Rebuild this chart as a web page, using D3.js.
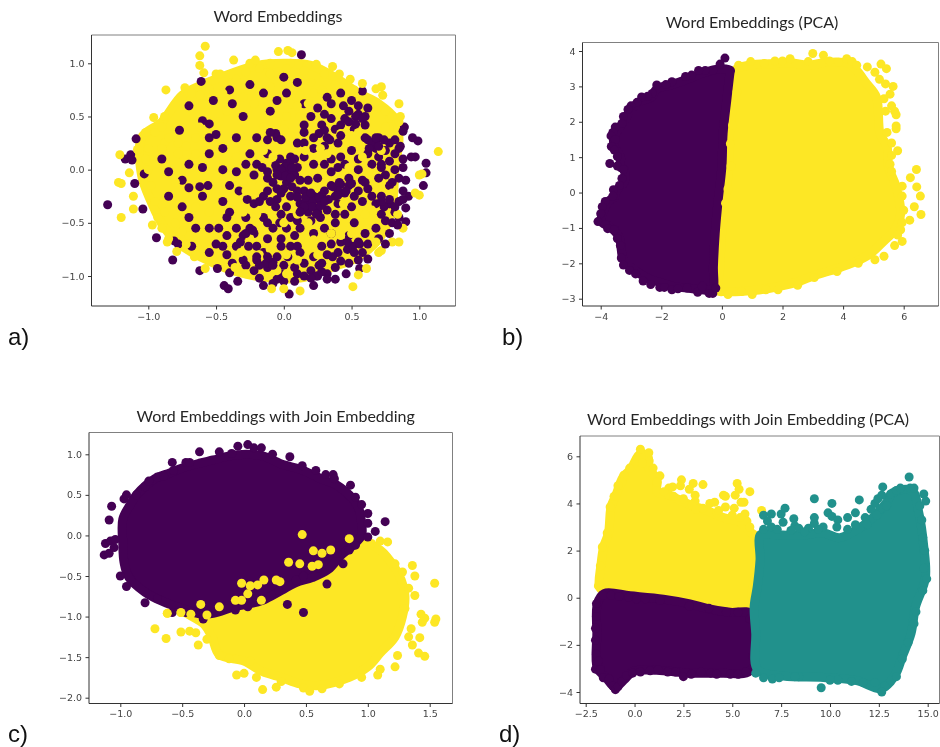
<!DOCTYPE html>
<html>
<head>
<meta charset="utf-8">
<script src="https://cdn.jsdelivr.net/npm/d3@7"></script>
<style>
    html, body { margin: 0; padding: 0; background: #fff; }
    svg { display: block; filter: blur(0.35px); }
    .tick text { font-family: "DejaVu Sans", sans-serif; font-size: 9.5px; fill: #444; }
    .tick line { stroke: #333; }
    .title { font-family: "Lato", "Open Sans", sans-serif; font-size: 16px; fill: #262626; text-anchor: middle; }
    .letter { font-family: "Liberation Sans", sans-serif; font-size: 24px; fill: #111; }
</style>
</head>
<body>
<script>
const PURPLE = '#440154', TEAL = '#21918c', YELLOW = '#fde725';
const DOT_R = 4.5;

// Values. The solid masses can't be split into single
// points by eye, so each one is kept as an outline through the outer point
// centres (Mass) and the visible edge / stray points are kept as dots (Dots).

// a) Word Embeddings
const aTicksX = [-1, -0.5, 0, 0.5, 1];
const aTicksY = [-1, -0.5, 0, 0.5, 1];
const aYellowMass = [[-1.05,0.3],[-0.9,0.45],[-0.75,0.7],[-0.6,0.8],[-0.4,0.9],[-0.2,0.98],[0,1],[0.2,0.98],[0.4,0.85],[0.55,0.72],[0.7,0.62],[0.82,0.48],[0.85,0.3],[0.82,0],[0.8,-0.35],[0.72,-0.62],[0.55,-0.82],[0.35,-0.92],[0.12,-1.02],[-0.1,-1.02],[-0.35,-0.96],[-0.55,-0.86],[-0.75,-0.72],[-0.88,-0.55],[-0.98,-0.3],[-1.05,-0.05]];
const aPurpleDots = [[-1.3,-0.33],[-1.09,0.29],[-1.17,0.1],[-1.13,0.14],[-1.12,0.09],[-1.1,-0.13],[-1.03,-0.04],[-1.04,-0.37],[-0.94,-0.64],[-0.82,-0.85],[-0.81,-0.67],[-0.78,-0.7],[-0.62,-0.95],[-0.49,-0.93],[-0.44,-1.09],[-0.41,-1.12],[-0.34,-1.05],[-0.4,-0.97],[-0.15,-1.09],[0.04,-1.17],[0.13,1.08],[0,0.87],[0.1,0.82],[1.05,0.06],[1.05,-0.03],[1.03,-0.15],[0.99,0.27],[0.95,0.3],[0.89,0.4],[0.88,0.36],[0.97,0.12],[0.94,0.12],[0.92,-0.25],[0.9,-0.36],[0.9,-0.49],[0.58,0.74],[0.56,-0.93],
[-0.61,0.83],[-0.52,0.65],[-0.7,0.6],[-0.4,0.75],[-0.38,0.62],[-0.25,0.8],[-0.15,0.72],[-0.1,0.55],[-0.3,0.5],[-0.55,0.43],[-0.6,0.46],[-0.77,0.37],[-0.55,0.3],[-0.5,0.33],[-0.35,0.3],[-0.45,0.2],[-0.55,0.15],[-0.7,0.05],[-0.9,0.1],[-0.85,-0.02],[-0.6,0.02],[-0.45,0],[-0.35,-0.02],[-0.75,-0.1],[-0.62,-0.16],[-0.7,-0.17],[-0.56,-0.15],[-0.85,-0.25],[-0.6,-0.25],[-0.4,-0.15],[-0.45,-0.3],[-0.75,-0.35],[-0.7,-0.45],[-0.65,-0.55],[-0.55,-0.55],[-0.42,-0.45],[-0.35,-0.55],[-0.5,-0.7],[-0.68,-0.72],[-0.35,-0.72],[-0.3,-0.62],[-0.25,-0.55],[-0.2,-0.72],[-0.12,-0.65],[-0.42,-0.8],[-0.3,-0.85],[-0.2,-0.85],[-0.22,-0.95],[-0.12,-0.92],[-0.05,-1.03],[0,-1.05],[-0.08,-1.07],[0.08,-1.05],[0.22,-1.09],[0.25,-1],[0.2,-0.95],[0.15,-0.88],[0.08,-0.92],[0,-0.9],[-0.05,-0.82],[0.28,-0.88],[0.38,-1.03],[0.46,-0.98],[0.55,-0.85],[0.47,-0.75],[0.55,-0.68],[0.6,-0.6],[0.68,-0.55],[0.78,-0.6],[0.8,-0.5],[0.72,-0.42],[0.78,-0.32],[0.85,-0.3],[0.88,-0.2],[0.8,-0.12],[0.75,-0.05],[0.82,0],[0.78,0.08],[0.7,0.12],[0.65,0.22],[0.62,0.28],[0.7,0.3],[0.78,0.25],[0.85,0.2],[0.88,0.1],[0.65,0.05],[0.55,0],[0.58,-0.1],[0.48,-0.08],[0.45,0.05],[0.42,0.12],[0.5,0.18],[0.4,0.25],[0.32,0.3],[0.38,0.38],[0.28,0.42],[0.2,0.5],[0.25,0.58],[0.35,0.62],[0.42,0.72],[0.5,0.65],[0.55,0.52],[0.6,0.5],[0.45,0.48],[0.15,0.35],[0.1,0.25],[0.05,0.12],[-0.05,0.3],[-0.12,0.28],[-0.2,0.3],[-0.25,0.15],[-0.2,0.05],[-0.22,-0.05],[-0.12,-0.08],[-0.05,0],[0,0.02],[0.02,0.06],[0.04,-0.02],[-0.02,-0.06],[0.08,-0.05],[0.02,-0.12],[0.1,0.02],[0.15,-0.2],[0.18,-0.25],[0.2,-0.3],[0.22,-0.35],[0.25,-0.28],[0.28,-0.32],[0.22,-0.25],[0.3,-0.2],[0.35,-0.15],[0.42,-0.14],[0.38,-0.25],[0.45,-0.22],[0.32,-0.38],[0.18,-0.4],[0.12,-0.32],[0.05,-0.25],[0.02,-0.35],[-0.05,-0.28],[-0.1,-0.3],[-0.15,-0.25],[-0.22,-0.32],[-0.27,-0.28],[-0.02,-0.42],[0.05,-0.45],[0.02,-0.55],[0.12,-0.55],[0.22,-0.6],[0.3,-0.55],[0.38,-0.5],[0.45,-0.42],[0.52,-0.5],[0.5,-0.35],[0.58,-0.3],[0.35,-0.7],[0.28,-0.72],[0.4,-0.78],[-0.15,-0.45],[-0.08,-0.55],[0.05,-0.72],[-0.02,-0.65],[0.15,0.12],[0.22,0.05],[0.3,0.05],[0.35,-0.02],[0.25,-0.08],[0.65,-0.25],[0.62,-0.18],[0.72,-0.25],
[0.05,0.08],[-0.03,0.1],[-0.06,0.04],[0.08,0.1],[0.12,-0.1],[-0.08,-0.12],[0,-0.18],[0.06,-0.16],[-0.05,-0.18],[0.1,-0.2],[0.16,-0.3],[0.13,-0.38],[0.25,-0.4],[0.28,-0.24],[0.18,-0.33],[0.33,-0.28],[0.4,-0.32],[0.27,-0.45],[0.2,-0.48],[0.4,-0.2],[0.48,-0.15],[0.52,-0.25],[0.55,-0.2],[-0.03,-0.5],[-0.06,-0.35],[-0.12,-0.2],[-0.02,-0.72],[0.1,-0.48],[0.35,-0.6],[0.42,-0.68],[0.48,-0.62],[0.62,-0.7],[0.58,-0.78],[0.48,-0.88],[0.38,-0.92],[0.32,-0.98],[0.15,-1],[0.1,-0.98],[-0.02,-0.98],[-0.18,-1.02],[-0.28,-0.9],[-0.38,-0.88],[-0.15,-0.78],[-0.08,-0.87],[0.03,-0.82],[0.12,-0.78],[0.22,-0.82],[0.32,-0.8],[0.7,-0.65],[0.75,-0.48],[0.82,-0.4],[0.85,-0.45],[0.68,-0.32],[0.78,-0.15],[0.85,-0.08],[0.72,0.02],[0.68,0.2],[0.62,0.15],[0.75,0.18],[0.82,0.15],[0.82,0.28],[0.72,0.05],[0.55,0.1],[0.6,0.3],[0.52,0.38],[0.42,0.42],[0.35,0.48],[0.3,0.22],[0.22,0.2],[0.15,0.25],[-0.12,0.15],[-0.28,0.05],[-0.33,-0.2],[-0.4,-0.4],[-0.48,-0.55],[-0.28,-0.45],[-0.22,-0.6],[0.35,0.1],[0.4,0.02],[0.18,-0.1],[0.6,0.42],[0.55,0.6],[0.48,0.55],[0.3,0.52],[0.15,0.62],[0.02,0.72],[-0.05,0.65]];
// Solid purple patches of the picture, added after the yellow overlay
const aPurplePatches = [[0.02,0.03],[-0.02,0],[0.06,0.02],[0.01,-0.06],[-0.05,-0.05],[0.05,-0.08],[0.21,-0.29],[0.16,-0.26],[0.26,-0.26],[0.21,-0.35],[0.15,-0.35],[0.27,-0.34],[0.2,-0.22],[0.3,-0.3],[0.24,-0.42],[0.66,0.25],[0.7,0.22],[0.63,0.2],[0.68,0.3],[0.74,0.28],[0.78,-0.32],[0.74,-0.35],[0.82,-0.35],[0.78,-0.28],[0.72,-0.3],[-0.13,-0.88],[-0.08,-0.9],[-0.18,-0.9],[-0.12,-0.82],[-0.2,-0.82],[0.24,-1],[0.28,-0.96],[0.2,-1.02],[0.26,-0.9],[0.32,-1.03],[0.51,-0.72],[0.56,-0.7],[0.47,-0.68],[0.52,-0.78],[-0.28,-0.6],[-0.23,-0.57],[-0.32,-0.68],[-0.26,-0.72],[0.36,-0.16],[0.41,-0.12],[0.46,-0.2],[0.4,-0.24],[0.5,-0.13],[0.26,0.34],[0.3,0.37],[0.22,0.3],[0.34,0.28],[0.53,0.5],[0.58,0.48],[0.48,0.45],[0.53,0.43],[-0.06,0.34],[-0.1,0.35],[-0.02,0.28],[0.12,-0.4],[0.1,-0.26],[-0.02,-0.22],[-0.18,-0.3],[0.88,0.02],[0.86,0.22],[0.9,-0.1],[0.88,-0.28],[0.84,-0.52],[0.75,-0.7],[0.62,-0.84],[0.42,-0.86],[0.38,-0.42],[0.6,-0.12],[0.7,-0.08],[0.42,0.32],[0.15,0.42],[0.08,-0.62],[-0.12,-0.5],[-0.42,-0.62],[-0.45,-0.72],[-0.55,-0.78],[0.32,0.68],[0.44,0.6],[0.62,0.58],[-0.12,-0.02],[-0.16,0.02],[0.36,-0.82],[0.1,-0.72]];
const aYellowDots = [[-1.2,-0.45],[-1.2,-0.13],[-1.22,-0.12],[-1.11,-0.37],[-1.11,-0.25],[-1.14,-0.03],[-1.21,0.14],[-1.08,0.19],[-1.02,0.35],[-0.96,0.49],[-0.88,0.5],[-0.87,0.75],[-0.73,0.77],[-0.62,0.98],[-0.58,1.16],[-0.62,1.07],[-0.59,0.91],[-0.5,0.9],[-0.47,0.9],[-0.37,1.03],[-0.25,1],[-0.21,1.03],[-0.1,1],[-0.04,1.11],[0.03,1.12],[0.06,1.1],[0.05,1],[0.17,0.98],[0.24,0.99],[0.36,0.97],[0.41,0.9],[0.49,0.85],[0.58,0.81],[0.68,0.76],[0.72,0.78],[0.73,0.7],[0.85,0.62],[0.86,0.5],[0.78,0.48],[1.14,0.17],[1,-0.05],[1.02,-0.04],[0.97,-0.22],[1,-0.24],[0.88,-0.55],[0.85,-0.68],[0.8,-0.68],[0.7,-0.78],[0.61,-0.93],[0.55,-0.99],[0.51,-1.1],[0.12,-1.14],[0,-1.12],[-0.09,-1.12],[-0.58,-0.93],[-0.66,-0.82],[-0.79,-0.77],[-0.86,-0.68],[-0.97,-0.52],
[0.05,0.62],[0.1,0.6],[0.22,0.72],[0.28,0.75],[-0.05,0.45],[0,0.38],[0.05,0.32],[-0.15,0.18],[-0.08,0.12],[-0.35,0.12],[-0.18,-0.15],[-0.3,-0.12],[0.16,0.18],[0.27,0.2],[0.32,0.15],[0.42,0.34],[0.55,0.35],[0.75,0.4],[0.72,0.18],[0.58,0.12],[0.5,0.32],[0.62,-0.02],[0.72,-0.12],[0.65,-0.38],[0.6,-0.42],[0.68,-0.68],[0.72,-0.76],[0.5,-0.6],[0.42,-0.62],[0.35,-0.6],[0.18,-0.5],[0.1,-0.42],[0.12,-0.65],[0.22,-0.66],[0.25,-0.8],[0.1,-0.85],[0.02,-0.8],[-0.1,-0.75],[-0.18,-0.8],[-0.32,-0.78],[-0.36,-0.92],[-0.28,-0.98],[-0.05,-0.95],[0.02,-0.98],[-0.25,-0.65],[-0.2,-0.42],[-0.3,-0.4],[0,-0.5],[0.44,-0.32],[0.4,-0.08],[0.48,0.02],[0.8,-0.22],[0.84,-0.42],[-0.15,0.4],[-0.06,0.22],[0.25,0.35],[0.12,0.5],
[-0.95,0.35],[-0.9,0.4],[-0.88,0.25],[-1,0.2],[-1.02,0.1],[-1,0],[-0.98,-0.15],[-0.95,-0.3],[-0.93,-0.45],[-0.9,-0.55],[-0.85,-0.65],[-0.72,-0.7],[-0.65,-0.8],[-0.7,-0.62],[-0.75,0.68],[-0.68,0.72],[-0.55,0.76],[-0.45,0.72],[-0.35,0.85],[-0.28,0.92],[-0.18,0.95],[-0.1,0.9],[0.02,0.95],[0.15,0.93],[0.3,0.9],[0.38,0.8],[0.52,0.75],[0.62,0.65],[0.75,0.55],[0.8,0.5],[0.85,0.45],
[-0.85,0.3],[-0.78,0.25],[-0.9,0.2],[-0.72,0.22],[-0.65,0.3],[-0.62,0.4],[-0.48,0.45],[-0.42,0.55],[-0.22,0.62],[-0.3,0.68],[-0.1,0.78],[-0.6,0.62],[-0.62,0.7],[-0.78,0.15],[-0.65,0.15],[-0.8,-0.12],[-0.78,-0.25],[-0.65,-0.35],[-0.88,-0.4],[-0.8,-0.5],[-0.75,-0.58],[-0.55,-0.4],[-0.5,-0.22],[-0.5,-0.08],[-0.42,0.08],[-0.3,0.2],[-0.28,-0.2],[-0.58,-0.7],[0.2,0.82],[0.3,0.72],[0.12,0.7],[0.18,0.62],[0.02,0.5]];

// b) Word Embeddings (PCA)
const bTicksX = [-4, -2, 0, 2, 4, 6];
const bTicksY = [-3, -2, -1, 0, 1, 2, 3, 4];
const bPurpleMass = [[0.28,3.45],[-0.06,3.5],[-0.72,3.35],[-1.15,3.2],[-1.65,3.05],[-2.15,2.93],[-2.32,2.7],[-2.7,2.57],[-3.03,2.33],[-3.2,2.05],[-3.45,1.75],[-3.57,1.55],[-3.55,1.3],[-3.35,1],[-3.35,0.72],[-3.23,0.65],[-3.23,0.28],[-3.47,0.07],[-3.55,-0.12],[-3.75,-0.25],[-3.87,-0.45],[-3.98,-0.82],[-3.7,-0.97],[-3.4,-1.25],[-3.25,-1.9],[-2.95,-2.15],[-2.43,-2.43],[-1.93,-2.57],[-1.6,-2.65],[-0.83,-2.73],[-0.39,-2.77],[-0.29,-2.75],[-0.28,-2.1],[-0.22,-1.15],[-0.12,-0.2],[0,0.73],[0.04,1.67],[0.16,2.6],[0.27,3.4]];
const bYellowMass = [[0.43,3.45],[0.93,3.6],[1.8,3.65],[2.24,3.67],[2.9,3.6],[3.35,3.67],[4.17,3.65],[4.45,3.45],[4.73,3.13],[5.1,2.7],[5.22,1.67],[5.45,1.3],[5.5,0.73],[5.75,0.17],[5.9,-0.6],[5.7,-1.06],[5.35,-1.37],[4.9,-1.73],[4.37,-1.97],[3.8,-2.15],[3.03,-2.35],[2.5,-2.53],[1.8,-2.67],[1.03,-2.77],[0.05,-2.8],[-0.12,-2.78],[-0.07,-2.1],[-0.01,-1.15],[0.1,-0.2],[0.23,0.73],[0.25,1.67],[0.37,2.6]];
const bPurpleDots = [[0.1,3.8],[-0.06,3.63],[-0.3,3.45],[-0.55,3.45],[-0.77,3.45],[-1,3.32],[-1.2,3.28],[-1.65,3.13],[-1.85,3.05],[-2.15,3.04],[-2.3,2.8],[-2.45,2.72],[-2.65,2.7],[-2.8,2.55],[-3,2.45],[-3.1,2.35],[-3.25,2.15],[-3.3,1.95],[-3.52,1.85],[-3.6,1.7],[-3.66,1.6],[-3.52,1.5],[-3.65,1.3],[-3.55,1.2],[-3.45,1.02],[-3.7,0.82],[-3.45,0.75],[-3.25,0.65],[-3.3,0.4],[-3.38,0.2],[-3.58,0.08],[-3.6,-0.1],[-3.85,-0.25],[-3.95,-0.4],[-4,-0.6],[-4.09,-0.82],[-3.85,-0.9],[-3.77,-1.02],[-3.55,-1.05],[-3.45,-1.3],[-3.35,-1.5],[-3.32,-1.85],[-3.25,-2.05],[-3.05,-2.2],[-2.85,-2.3],[-2.6,-2.5],[-2.35,-2.6],[-2.05,-2.68],[-1.9,-2.68],[-1.65,-2.75],[-1.45,-2.72],[-1.15,-2.7],[-0.8,-2.82],[-0.65,-2.65],[-0.42,-2.85],[-0.3,-2.85],[-0.2,-2.7]];
const bYellowDots = [[0.55,3.6],[0.95,3.7],[1.4,3.65],[1.75,3.72],[2,3.72],[2.25,3.78],[2.85,3.7],[3,3.93],[3.35,3.88],[3.55,3.72],[3.85,3.68],[4.12,3.78],[4.3,3.7],[4.45,3.6],[4.8,3.55],[5.05,3.4],[5.25,3.63],[5.43,3.5],[5.2,3.2],[5.4,3.07],[5.65,3],[5.55,2.78],[5.35,2.65],[5.4,2.3],[5.6,2.45],[5.7,2.3],[5.75,2.2],[5.75,1.88],[5.75,1.8],[5.45,1.7],[5.6,1.4],[5.8,1.18],[5.6,1.05],[5.55,0.8],[5.6,0.6],[6.42,0.65],[6.22,0.42],[6.43,0.16],[6.55,-0.1],[6.35,-0.4],[6.57,-0.62],[6.2,-0.78],[5.95,0.18],[5.95,-0.1],[6,-0.5],[5.95,-0.85],[5.9,-1.05],[5.8,-1.2],[5.95,-1.38],[5.7,-1.5],[5.35,-1.8],[5.05,-1.9],[4.5,-2],[3.8,-2.23],[3.05,-2.4],[2.5,-2.62],[1.85,-2.75],[1.45,-2.75],[1,-2.88],[0.65,-2.8],[0.2,-2.88],[0.12,-0.3],[0.2,0.1],[0.3,0.75],[0.28,1.38],[0.35,1.9],[0.5,2.85]];

// c) Word Embeddings with Join Embedding
const cTicksX = [-1, -0.5, 0, 0.5, 1, 1.5];
const cTicksY = [-2, -1.5, -1, -0.5, 0, 0.5, 1];
const cYellowMass = [[0.95,-0.08],[1.1,-0.18],[1.22,-0.4],[1.27,-0.55],[1.3,-0.75],[1.28,-1],[1.22,-1.25],[1.1,-1.45],[1,-1.62],[0.85,-1.75],[0.6,-1.85],[0.45,-1.83],[0.3,-1.75],[0.15,-1.68],[0,-1.55],[-0.2,-1.47],[-0.26,-1.25],[-0.32,-1.1],[-0.5,-0.9],[-0.2,-0.8],[0.3,-0.5],[0.7,-0.3]];
const cPurpleMass = [[-0.98,-0.1],[-0.98,0.2],[-0.92,0.38],[-0.87,0.5],[-0.72,0.7],[-0.6,0.77],[-0.5,0.83],[-0.36,0.89],[-0.25,0.93],[-0.12,0.98],[0.02,1],[0.15,0.98],[0.32,0.87],[0.45,0.82],[0.62,0.7],[0.75,0.62],[0.88,0.45],[0.93,0.32],[0.95,0.15],[0.95,0],[0.88,-0.12],[0.78,-0.25],[0.68,-0.42],[0.55,-0.52],[0.42,-0.58],[0.3,-0.68],[0.15,-0.8],[0.02,-0.85],[-0.08,-0.88],[-0.25,-0.96],[-0.35,-0.97],[-0.5,-0.9],[-0.65,-0.82],[-0.8,-0.7],[-0.93,-0.52],[-0.97,-0.33]];
const cPurpleDots = [[-1.12,-0.1],[-1.08,-0.07],[-1.13,-0.24],[-1.09,-0.22],[-1.05,-0.15],[-1.04,-0.05],[-1.09,0.19],[-1.07,0.36],[-0.97,0.45],[-0.95,0.5],[-0.87,0.5],[-0.8,0.6],[-0.77,0.67],[-0.7,0.72],[-0.65,0.73],[-0.57,0.8],[-0.58,0.9],[-0.47,0.9],[-0.44,0.9],[-0.36,1.03],[-0.2,1.03],[-0.1,1.01],[-0.05,1.1],[0.03,1.12],[0.08,1.08],[0.14,1.08],[0.23,1],[0.37,0.97],[0.47,0.86],[0.58,0.8],[0.66,0.75],[0.72,0.75],[0.73,0.7],[0.86,0.62],[0.9,0.47],[0.95,0.38],[1,0.27],[1,0.15],[1.14,0.17],[1.06,0.05],[1,-0.02],[-1,-0.5],[-0.95,-0.63],[-0.8,-0.83],[-0.7,-0.78],[-0.58,-0.95],[-0.47,-0.95],[-0.33,-1.03],[-0.3,-0.93],[-0.07,-0.92],[0.03,-0.88],[0.1,-0.78],[0.15,-0.78],[0.28,-0.68],[0.42,-0.55],[0.48,-0.5],[0.67,-0.6],[0.6,-0.4],[0.8,-0.35],[0.75,-0.22],[0.9,-0.12],[0.85,-0.18],[0.35,-0.85],[0.48,-0.95]];
const cYellowDots = [[0.47,0.01],[0.85,-0.04],[0.56,-0.19],[0.7,-0.18],[0.36,-0.33],[0.45,-0.35],[0.55,-0.38],[0.6,-0.36],[-0.02,-0.59],[0.05,-0.62],[0.11,-0.61],[0.16,-0.55],[0.26,-0.55],[0.29,-0.57],[0.63,-0.22],[-0.35,-0.85],[-0.07,-0.8],[-0.02,-0.8],[0.14,-0.8],[0.03,-0.72],[-0.62,-0.96],[-0.51,-0.95],[-0.43,-0.97],[-0.3,-0.98],[-0.2,-0.88],[1.1,-0.07],[1.16,-0.08],[1.03,-0.1],[1.22,-0.35],[1.36,-0.37],[1.38,-0.5],[1.28,-0.45],[1.54,-0.59],[1.38,-0.74],[1.33,-0.65],[1.3,-0.9],[1.43,-0.97],[1.46,-1.02],[1.44,-1.07],[1.55,-1.03],[1.54,-1.07],[1.35,-1.15],[1.42,-1.26],[1.36,-1.35],[1.33,-1.25],[1.41,-1.45],[1.46,-1.49],[1.24,-1.48],[1.22,-1.62],[1.1,-1.65],[1.08,-1.72],[-0.72,-1.15],[-0.63,-1.27],[-0.51,-1.19],[-0.44,-1.18],[-0.39,-1.2],[-0.37,-1.35],[-0.3,-1.28],[-0.2,-1.48],[-0.12,-1.52],[-0.06,-1.72],[0,-1.7],[0.1,-1.75],[0.15,-1.9],[0.26,-1.87],[0.05,-1.55],[0.3,-1.8],[0.48,-1.88],[0.53,-1.92],[0.63,-1.89],[0.77,-1.83],[0.95,-1.75]];

// d) Word Embeddings with Join Embedding (PCA)
const dTicksX = [-2.5, 0, 2.5, 5, 7.5, 10, 12.5, 15];
const dTicksY = [-4, -2, 0, 2, 4, 6];
const dYellowMass = [[-1.8,0.47],[-1.72,1.39],[-1.58,2.17],[-1.34,2.73],[-1.2,3.87],[-0.95,4.36],[-0.6,5.1],[-0.2,5.45],[0.28,6.1],[0.7,5.95],[0.7,5.55],[1.15,5],[1.15,4.5],[1.64,4.4],[2.83,3.95],[3.7,3.7],[4.54,3.4],[5.4,3.2],[5.9,2.8],[6.28,2.55],[6.28,1.74],[6.2,1.03],[6,0.19],[5.9,-0.55],[4.88,-0.45],[3.7,-0.3],[2.83,-0.1],[1.47,0.05],[-0.23,0.2],[-1.6,0.3]];
const dPurpleMass = [[-1.9,-0.24],[-1.55,0.18],[-0.23,0.08],[1.47,-0.06],[2.83,-0.26],[3.7,-0.45],[4.88,-0.62],[6.02,-0.7],[6.1,-2.9],[5.7,-3.2],[4.54,-3.2],[2.83,-3.2],[1.13,-3.08],[-0.06,-3.12],[-0.55,-3.5],[-1,-3.8],[-1.45,-3.4],[-1.9,-3],[-1.93,-1.51]];
const dTealMass = [[6.45,2.68],[7.1,2.68],[8.5,2.65],[9.66,2.75],[10.5,2.55],[11.5,2.95],[12.2,3.4],[12.9,4.05],[13.2,4.45],[14.2,4.55],[14.55,3.58],[14.8,2.17],[14.88,0.82],[14.38,-0.38],[14.15,-1.51],[13.7,-2.5],[13.35,-3.25],[12.65,-3.85],[11.37,-3.52],[9.66,-3.38],[7.62,-3.32],[6.3,-3.05],[6.2,-1.51],[6.12,-0.38],[6.28,0.47],[6.42,1.6]];
const dYellowDots = [[0.3,6.3],[0.73,6.15],[0.75,5.8],[0.4,5.7],[-0.25,5.5],[-0.55,5.2],[-0.65,4.9],[0.95,5.5],[1.3,5.17],[1.15,4.9],[1.75,4.65],[1.95,4.7],[2.4,5],[2.35,4.75],[3,4.85],[2.8,4.6],[3.5,4.8],[3.1,4.35],[3.1,4.1],[2.95,3.95],[3.15,3.75],[3.85,4],[4.1,4.05],[4.55,4.35],[4.65,4.3],[5.25,4.85],[5.35,4.6],[5.15,4.35],[5.6,4.05],[5.45,4.05],[5.9,4.5],[4.65,3.85],[5.1,3.8],[5.65,3.55],[5.75,3.25],[5.9,3],[6.5,3.7],[5.4,3.4],[4.2,3.6],[-1.25,3.85],[-1.05,4.3],[-0.85,4.75],[-1.65,2.15],[-1.75,1.35],[-1.85,0.5],[-1.4,2.75],[6.3,2.3],[6.25,1.6],[6.15,0.85],[1.5,4.5],[2,4.3],[2.5,4.2],[3.5,3.8],[4.3,3.7],[5,3.5]];
const dPurpleDots = [[-2,-3.03],[-1.75,-3.05],[-1.6,-3.4],[-1.3,-3.45],[-1.1,-3.75],[-0.98,-3.9],[-0.85,-3.78],[-0.65,-3.55],[-0.4,-3.3],[-0.1,-3.2],[0.3,-3.15],[0.8,-3.1],[1.2,-3.05],[1.7,-3.15],[2.1,-3.15],[2.5,-3.35],[2.9,-3.25],[3.4,-3.15],[3.9,-3.2],[4.2,-3.25],[4.9,-3.25],[5.3,-3.25],[5.7,-3.15],[-1.95,-0.25],[-1.95,-0.8],[-2,-1.3],[-2,-1.8],[-1.95,-2.4],[-1.85,-2.7],[-1.6,0.1],[-1.2,0.1],[-0.8,0.05],[-0.3,0.03],[0.1,-0.05],[0.55,-0.05],[1.3,-0.12],[2.8,-0.35],[3.8,-0.45],[4.7,-0.62],[5.3,-0.62],[5.9,-0.9],[6.05,-2.5]];
const dTealDots = [[6.6,3.5],[7,3.55],[6.8,3.25],[7,3],[7.5,3.55],[7.7,3.8],[7.6,3.2],[8.15,3.35],[8.2,3.05],[8.4,2.95],[8.9,2.95],[9.2,3.4],[9.2,3.15],[9.2,4.2],[10.1,4],[9.9,3.6],[10.1,3.45],[10.4,3.3],[10.35,3],[9.65,3],[10.9,3.4],[11.3,3.6],[11.5,4.15],[11.8,3.4],[12.1,3.75],[12.3,4],[12.45,4.2],[12.55,3.75],[12.65,4.35],[12.7,4.7],[13.1,4.4],[13.4,4.55],[13.6,4.65],[14.1,4.65],[14.05,5.12],[14.3,4.65],[14.8,4.4],[14.9,4.1],[14.6,3.9],[14.7,3.3],[14.75,2.55],[14.85,2],[14.8,1.25],[14.95,0.8],[14.75,0.3],[14.4,-0.6],[14.3,-1.1],[14,-1.9],[13.7,-2.6],[13.4,-3.35],[12.8,-3.75],[12.65,-4],[12.3,-3.6],[11.7,-3.6],[11.1,-3.55],[10.4,-3.5],[10,-3.5],[9.55,-3.82],[8.4,-3.35],[8.2,-3.35],[7.05,-3.45],[7.4,-3.4],[6.6,-3.4],[6.2,-3.2],[6.6,2.9],[7.3,2.9],[8,2.85],[8.7,2.8],[9.4,2.9],[10.9,2.9],[11.3,3.1],[11.9,3.1],[12.4,3.5],[12.9,3.9]];

const svg = d3.select('body').append('svg')
    .attr('width', 940)
    .attr('height', 747);

// Pixel frames of the four panels.
const panels = [
    { title: 'Word Embeddings', titleAt: [278, 22], letter: 'a)', letterAt: [8, 345],
      box: [91.5, 455.5, 35, 306], xRef: [-1, 148.3, 1, 419.3], yRef: [-1, 276, 1, 63.3],
      ticksX: aTicksX, ticksY: aTicksY, fmtX: '.1f', fmtY: '.1f',
      layers: [['mass', aYellowMass, YELLOW], ['dots', aPurpleDots, PURPLE], ['dots', aYellowDots, YELLOW], ['dots', aPurplePatches, PURPLE]] },
    { title: 'Word Embeddings (PCA)', titleAt: [752, 28], letter: 'b)', letterAt: [502, 345],
      box: [582.5, 938.5, 42.5, 306], xRef: [-4, 600.7, 6, 903.7], yRef: [-3, 298.7, 4, 51],
      ticksX: bTicksX, ticksY: bTicksY, fmtX: 'd', fmtY: 'd',
      layers: [['mass', bYellowMass, YELLOW], ['mass', bPurpleMass, PURPLE], ['dots', bYellowDots, YELLOW], ['dots', bPurpleDots, PURPLE]] },
    { title: 'Word Embeddings with Join Embedding', titleAt: [275.7, 422], letter: 'c)', letterAt: [8, 742],
      box: [89, 452.5, 432.5, 703.5], xRef: [-1, 120.3, 1.5, 429.7], yRef: [-2, 697.7, 1, 454.3],
      ticksX: cTicksX, ticksY: cTicksY, fmtX: '.1f', fmtY: '.1f',
      layers: [['mass', cYellowMass, YELLOW], ['dots', cYellowDots, YELLOW], ['mass', cPurpleMass, PURPLE], ['dots', cPurpleDots, PURPLE], ['dots', cYellowDots.slice(0, 25), YELLOW]] },
    { title: 'Word Embeddings with Join Embedding (PCA)', titleAt: [748, 425], letter: 'd)', letterAt: [499, 742],
      box: [580, 939.5, 436, 703.5], xRef: [-2.5, 585.7, 15, 927.7], yRef: [-4, 692, 6, 456.3],
      ticksX: dTicksX, ticksY: dTicksY, fmtX: '.1f', fmtY: 'd',
      layers: [['mass', dYellowMass, YELLOW], ['dots', dYellowDots, YELLOW], ['mass', dPurpleMass, PURPLE], ['dots', dPurpleDots, PURPLE], ['mass', dTealMass, TEAL], ['dots', dTealDots, TEAL]] }
];

function drawPanel(p) {
    let [left, right, top, bottom] = p.box;
    let x = d3.scaleLinear().domain([p.xRef[0], p.xRef[2]]).range([p.xRef[1], p.xRef[3]]);
    let y = d3.scaleLinear().domain([p.yRef[0], p.yRef[2]]).range([p.yRef[1], p.yRef[3]]);
    let g = svg.append('g');
    let outline = d3.line().x(d => x(d[0])).y(d => y(d[1])).curve(d3.curveCatmullRomClosed);

    p.layers.forEach(layer => {
        if (layer[0] === 'mass') {
            // The outline runs through point centres, so the stroke adds the marker radius
            g.append('path')
                .attr('d', outline(layer[1]))
                .attr('fill', layer[2])
                .attr('stroke', layer[2])
                .attr('stroke-width', DOT_R * 2)
                .attr('stroke-linejoin', 'round');
        } else {
            g.append('g').selectAll('circle')
                .data(layer[1])
                .enter()
                .append('circle')
                .attr('cx', d => x(d[0]))
                .attr('cy', d => y(d[1]))
                .attr('r', DOT_R)
                .attr('fill', layer[2]);
        }
    });

    // Frame: top and right edges are lighter in the picture
    g.append('path').attr('d', `M${left},${top}H${right}V${bottom}`).attr('fill', 'none').attr('stroke', '#808080');
    g.append('path').attr('d', `M${left},${top}V${bottom}H${right}`).attr('fill', 'none').attr('stroke', '#333');

    let xAxis = d3.axisBottom(x).tickValues(p.ticksX).tickSize(3.5).tickPadding(3.5).tickFormat(d3.format(p.fmtX));
    let yAxis = d3.axisLeft(y).tickValues(p.ticksY).tickSize(3.5).tickPadding(3.5).tickFormat(d3.format(p.fmtY));
    g.append('g').attr('transform', `translate(0,${bottom})`).call(xAxis).call(a => a.select('.domain').remove());
    g.append('g').attr('transform', `translate(${left},0)`).call(yAxis).call(a => a.select('.domain').remove());

    svg.append('text').attr('class', 'title').attr('x', p.titleAt[0]).attr('y', p.titleAt[1]).text(p.title);
    svg.append('text').attr('class', 'letter').attr('x', p.letterAt[0]).attr('y', p.letterAt[1]).text(p.letter);
}

panels.forEach(drawPanel);
</script>
</body>
</html>
